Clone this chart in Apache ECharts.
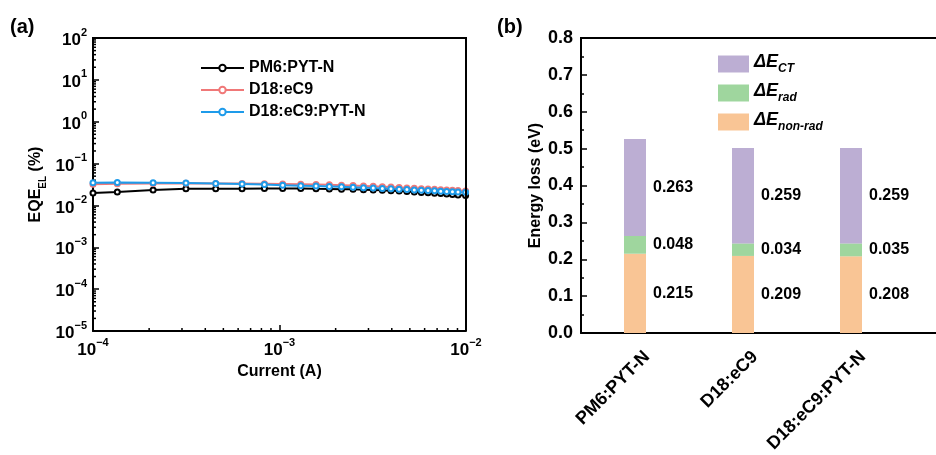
<!DOCTYPE html>
<html><head><meta charset="utf-8">
<script src="https://cdn.jsdelivr.net/npm/echarts@6/dist/echarts.min.js"></script>
<style>html,body{margin:0;padding:0;background:#fff}#c{width:936px;height:455px}</style>
</head><body><div id="c"></div>
<script>
// ---------- Panel (a): EQE_EL vs current ----------
const currents = [1.0e-4, 1.35e-4, 2.1e-4, 3.15e-4, 4.55e-4, 6.3e-4, 8.3e-4, 1.04e-3, 1.3e-3, 1.57e-3, 1.85e-3, 2.15e-3, 2.48e-3, 2.82e-3, 3.18e-3, 3.56e-3, 3.96e-3, 4.38e-3, 4.82e-3, 5.28e-3, 5.76e-3, 6.26e-3, 6.78e-3, 7.32e-3, 7.88e-3, 8.46e-3, 9.06e-3, 9.95e-3];
const eqePM6 = [0.0197, 0.021, 0.0235, 0.025, 0.025, 0.0252, 0.0255, 0.0255, 0.0253, 0.025, 0.0248, 0.0245, 0.0242, 0.0238, 0.0234, 0.023, 0.0225, 0.022, 0.0215, 0.021, 0.0205, 0.0201, 0.0196, 0.0192, 0.0187, 0.0182, 0.0178, 0.0173];
const eqeD18 = [0.032, 0.0328, 0.0335, 0.0338, 0.0336, 0.0334, 0.033, 0.0326, 0.032, 0.0315, 0.031, 0.0304, 0.0298, 0.0292, 0.0286, 0.028, 0.0274, 0.0268, 0.0262, 0.0257, 0.0252, 0.0247, 0.0242, 0.0238, 0.0234, 0.023, 0.0226, 0.0222];
const eqeTern = [0.035, 0.0352, 0.035, 0.0342, 0.0335, 0.0325, 0.0315, 0.0305, 0.0297, 0.029, 0.0284, 0.0278, 0.0272, 0.0266, 0.026, 0.0255, 0.025, 0.0245, 0.024, 0.0235, 0.0231, 0.0227, 0.0223, 0.0219, 0.0216, 0.0213, 0.021, 0.0207];
const seriesNamesA = ['PM6:PYT-N', 'D18:eC9', 'D18:eC9:PYT-N'];
const minorTicksX = [2e-4,3e-4,4e-4,5e-4,6e-4,7e-4,8e-4,9e-4,2e-3,3e-3,4e-3,5e-3,6e-3,7e-3,8e-3,9e-3];
const minorTicksY = [2e-5,3e-5,4e-5,5e-5,6e-5,7e-5,8e-5,9e-5,2e-4,3e-4,4e-4,5e-4,6e-4,7e-4,8e-4,9e-4,2e-3,3e-3,4e-3,5e-3,6e-3,7e-3,8e-3,9e-3,2e-2,3e-2,4e-2,5e-2,6e-2,7e-2,8e-2,9e-2,2e-1,3e-1,4e-1,5e-1,6e-1,7e-1,8e-1,9e-1,2,3,4,5,6,7,8,9,20,30,40,50,60,70,80,90];

// ---------- Panel (b): energy loss ----------
const categoriesB = ['PM6:PYT-N', 'D18:eC9', 'D18:eC9:PYT-N', ''];
const dENonRad = [0.215, 0.209, 0.208];
const dERad = [0.048, 0.034, 0.035];
const dECT = [0.263, 0.259, 0.259];

const FONT = '"Liberation Sans", Arial, sans-serif';
const pow = {
  b: {fontSize: 17, fontWeight: 'bold', fontFamily: FONT, color: '#000', lineHeight: 22, verticalAlign: 'bottom'},
  s: {fontSize: 11, fontWeight: 'bold', fontFamily: FONT, color: '#000', lineHeight: 12, verticalAlign: 'top'}
};
function powLabel(v) {
  const e = Math.round(Math.log10(v));
  return '{b|10}{s|' + (e < 0 ? '\u2212' + (-e) : e) + '}';
}
const zip = (xs, ys) => xs.map((x, i) => [x, ys[i]]);
const colorsA = ['#000000', '#F07878', '#1E9BEA'];
const lineAx = {lineStyle: {color: '#000', width: 2}};

const chart = echarts.init(document.getElementById('c'), null, {renderer: 'canvas'});
const labelB = {fontSize: 16, fontWeight: 'bold', fontFamily: FONT, color: '#000'};
const legNames = {CT: '{d|\u0394E}{s|CT}', rad: '{d|\u0394E}{s|rad}', nonrad: '{d|\u0394E}{s|non-rad}'};

// frame (top / right borders) drawn as custom series spanning each grid's coordinate system
const frameSeries = (xi, yi, sides) => ({
  type: 'custom', xAxisIndex: xi, yAxisIndex: yi, silent: true, clip: false, z: 5,
  data: [[0]],
  renderItem: (params) => {
    const c = params.coordSys;
    const kids = [];
    if (sides.includes('top')) kids.push({type: 'line', shape: {x1: c.x - 1, y1: c.y, x2: c.x + c.width, y2: c.y}, style: {stroke: '#000', lineWidth: 2}});
    if (sides.includes('right')) kids.push({type: 'line', shape: {x1: c.x + c.width, y1: c.y - 1, x2: c.x + c.width, y2: c.y + c.height}, style: {stroke: '#000', lineWidth: 2}});
    return {type: 'group', children: kids};
  }
});

chart.setOption({
  animation: false,
  textStyle: {fontFamily: FONT},
  graphic: [
    {type: 'text', left: 10, top: 17, style: {text: '(a)', font: 'bold 20px ' + FONT, fill: '#000'}},
    {type: 'text', left: 497, top: 17, style: {text: '(b)', font: 'bold 20px ' + FONT, fill: '#000'}}
  ],
  grid: [
    {left: 93, width: 373, top: 38, height: 293, outerBoundsMode: 'none', containLabel: false},
    {left: 581, width: 432, top: 38, height: 295, outerBoundsMode: 'none', containLabel: false}
  ],
  legend: [
    {data: seriesNamesA, orient: 'vertical', left: 195, top: 55, itemWidth: 43, itemHeight: 8, itemGap: 6,
     textStyle: {fontSize: 16, fontWeight: 'bold', fontFamily: FONT, color: '#000'}},
    {data: ['CT', 'rad', 'nonrad'], orient: 'vertical', left: 713, top: 48, itemWidth: 31, itemHeight: 17, itemGap: 7, icon: 'rect',
     formatter: n => legNames[n],
     textStyle: {rich: {
       d: {fontSize: 18, fontWeight: 'bold', fontStyle: 'italic', fontFamily: FONT, color: '#000', lineHeight: 22, verticalAlign: 'top'},
       s: {fontSize: 12, fontWeight: 'bold', fontStyle: 'italic', fontFamily: FONT, color: '#000', lineHeight: 14, verticalAlign: 'bottom'}
     }}}
  ],
  xAxis: [
    {type: 'log', gridIndex: 0, min: 1e-4, max: 1e-2, logBase: 10,
     name: 'Current (A)', nameLocation: 'middle', nameGap: 20,
     nameTextStyle: {fontSize: 16, fontWeight: 'bold', fontFamily: FONT, color: '#000'},
     axisLine: lineAx,
     axisTick: {inside: true, length: 6, lineStyle: {color: '#000', width: 1.5}},
     axisLabel: {formatter: powLabel, rich: pow, margin: 6},
     splitLine: {show: false}},
    {type: 'category', gridIndex: 1, data: categoriesB,
     axisLine: lineAx,
     axisTick: {inside: true, alignWithLabel: true, length: 6, lineStyle: {color: '#000', width: 1.5}},
     axisLabel: {rotate: 45, margin: 2, verticalAlign: 'top', padding: [13, 5, 0, 0], interval: 0,
       fontSize: 18, fontWeight: 'bold', fontFamily: FONT, color: '#000'},
     splitLine: {show: false}}
  ],
  yAxis: [
    {type: 'log', gridIndex: 0, min: 1e-5, max: 1e2, logBase: 10, splitNumber: 7,
     name: '{a|EQE}{s|EL}{a| (%)}', nameLocation: 'middle', nameGap: 45,
     nameTextStyle: {rich: {
       a: {fontSize: 16, fontWeight: 'bold', fontFamily: FONT, color: '#000', lineHeight: 20, verticalAlign: 'top'},
       s: {fontSize: 10, fontWeight: 'bold', fontFamily: FONT, color: '#000', lineHeight: 10, verticalAlign: 'bottom'}
     }},
     axisLine: lineAx,
     axisTick: {inside: true, length: 6, lineStyle: {color: '#000', width: 1.5}},
     axisLabel: {formatter: powLabel, rich: pow, margin: 6},
     splitLine: {show: false}},
    {type: 'value', gridIndex: 1, min: 0, max: 0.8, interval: 0.1,
     name: 'Energy loss (eV)', nameLocation: 'middle', nameGap: 31,
     nameTextStyle: {fontSize: 16, fontWeight: 'bold', fontFamily: FONT, color: '#000'},
     axisLine: {show: true, lineStyle: {color: '#000', width: 2}},
     axisTick: {show: true, inside: true, length: 6, lineStyle: {color: '#000', width: 1.5}},
     minorTick: {show: true, splitNumber: 2, length: 3, lineStyle: {color: '#000', width: 1.5}},
     axisLabel: {formatter: v => v.toFixed(1), fontSize: 18, fontWeight: 'bold', fontFamily: FONT, color: '#000', margin: 8},
     splitLine: {show: false}, minorSplitLine: {show: false}}
  ],
  series: [
    frameSeries(0, 0, ['top', 'right']),
    frameSeries(1, 1, ['top']),
    {type: 'custom', xAxisIndex: 0, yAxisIndex: 0, silent: true, clip: false,
     data: minorTicksX.map(v => [v, 1]),
     renderItem: (params, api) => {
       const p = api.coord([api.value(0), api.value(1)]);
       const yb = params.coordSys.y + params.coordSys.height;
       return {type: 'line', shape: {x1: p[0], y1: yb, x2: p[0], y2: yb - 3}, style: {stroke: '#000', lineWidth: 1.5}};
     }},
    {type: 'custom', xAxisIndex: 0, yAxisIndex: 0, silent: true, clip: false,
     data: minorTicksY.map(v => [1e-3, v]),
     renderItem: (params, api) => {
       const p = api.coord([api.value(0), api.value(1)]);
       const xl = params.coordSys.x;
       return {type: 'line', shape: {x1: xl, y1: p[1], x2: xl + 3, y2: p[1]}, style: {stroke: '#000', lineWidth: 1.5}};
     }},
    {name: seriesNamesA[0], type: 'line', xAxisIndex: 0, yAxisIndex: 0, data: zip(currents, eqePM6),
     symbol: 'emptyCircle', symbolSize: 5, color: colorsA[0], lineStyle: {width: 2}, itemStyle: {borderWidth: 1.5}},
    {name: seriesNamesA[1], type: 'line', xAxisIndex: 0, yAxisIndex: 0, data: zip(currents, eqeD18),
     symbol: 'emptyCircle', symbolSize: 5, color: colorsA[1], lineStyle: {width: 2}, itemStyle: {borderWidth: 1.5}},
    {name: seriesNamesA[2], type: 'line', xAxisIndex: 0, yAxisIndex: 0, data: zip(currents, eqeTern),
     symbol: 'emptyCircle', symbolSize: 5, color: colorsA[2], lineStyle: {width: 2}, itemStyle: {borderWidth: 1.5}},
    {name: 'nonrad', type: 'bar', stack: 'e', xAxisIndex: 1, yAxisIndex: 1, data: dENonRad, barWidth: 22,
     itemStyle: {color: '#F9C595'}, label: {show: true, position: 'right', distance: 7, formatter: p => p.value.toFixed(3), ...labelB}},
    {name: 'rad', type: 'bar', stack: 'e', xAxisIndex: 1, yAxisIndex: 1, data: dERad, barWidth: 22,
     itemStyle: {color: '#9FD69E'}, label: {show: true, position: 'right', distance: 7, formatter: p => p.value.toFixed(3), ...labelB}},
    {name: 'CT', type: 'bar', stack: 'e', xAxisIndex: 1, yAxisIndex: 1, data: dECT, barWidth: 22,
     itemStyle: {color: '#BCAED3'}, label: {show: true, position: 'right', distance: 7, formatter: p => p.value.toFixed(3), ...labelB}}
  ]
});
</script></body></html>
